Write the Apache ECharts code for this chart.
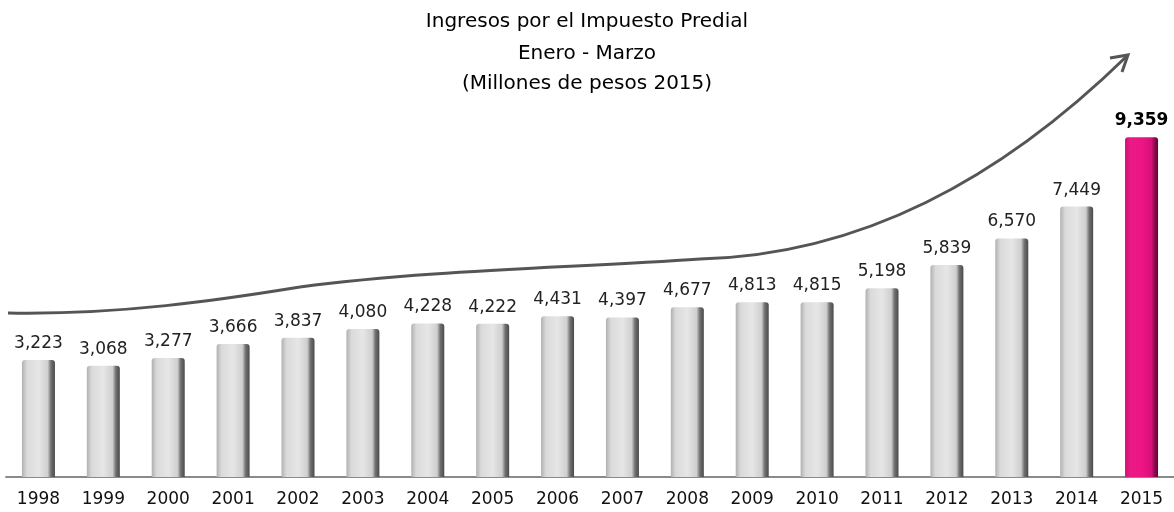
<!DOCTYPE html>
<html>
<head>
<meta charset="utf-8">
<script src="https://cdn.jsdelivr.net/npm/echarts@6/dist/echarts.min.js"></script>
<style>
  html, body { margin: 0; padding: 0; background: #fff; }
  #chart { width: 1174px; height: 512px; }
</style>
</head>
<body>
<div id="chart"></div>
<script>
const years = ['1998', '1999', '2000', '2001', '2002', '2003', '2004', '2005', '2006',
  '2007', '2008', '2009', '2010', '2011', '2012', '2013', '2014', '2015'];
const ingresos = [3223, 3068, 3277, 3666, 3837, 4080, 4228, 4222, 4431,
  4397, 4677, 4813, 4815, 5198, 5839, 6570, 7449, 9359];
const titleLines = ['Ingresos por el Impuesto Predial', 'Enero - Marzo', '(Millones de pesos 2015)'];

const chart = echarts.init(document.getElementById('chart'));

const grayBar = new echarts.graphic.LinearGradient(0, 0, 1, 0, [
  { offset: 0, color: '#b0b0b0' },
  { offset: 0.15, color: '#dadada' },
  { offset: 0.5, color: '#e6e6e6' },
  { offset: 0.78, color: '#cfcfcf' },
  { offset: 0.88, color: '#707070' },
  { offset: 1, color: '#4a4a4a' }
]);
const pinkBar = new echarts.graphic.LinearGradient(0, 0, 1, 0, [
  { offset: 0, color: '#d0106f' },
  { offset: 0.15, color: '#ea1a85' },
  { offset: 0.5, color: '#ee1586' },
  { offset: 0.8, color: '#d81079' },
  { offset: 0.9, color: '#8c0a4c' },
  { offset: 1, color: '#5e0632' }
]);

const last = ingresos.length - 1;
const font = 'DejaVu Sans';
const curveStyle = { fill: null, stroke: '#555', lineWidth: 3 };
const titleStyle = { fontFamily: font, fontSize: 20, fontWeight: 'normal', color: '#000' };

const option = {
  animation: false,
  textStyle: { fontFamily: font },
  title: [
    { text: titleLines[0], left: 'center', top: 7, textStyle: titleStyle },
    { text: titleLines[1], left: 'center', top: 39, textStyle: titleStyle },
    { text: titleLines[2], left: 'center', top: 69, textStyle: titleStyle }
  ],
  grid: { left: 6, right: -4, top: 114, bottom: 35, containLabel: false },
  xAxis: {
    type: 'category',
    data: years,
    axisTick: { show: false },
    axisLine: { lineStyle: { color: '#8a8a8a', width: 2 } },
    axisLabel: { fontSize: 17, color: '#111', margin: 14, fontFamily: font }
  },
  yAxis: {
    type: 'value',
    min: 0,
    max: 10000,
    show: false,
    splitLine: { show: false }
  },
  series: [{
    type: 'bar',
    barWidth: 33,
    data: ingresos.map((v, i) => ({
      value: v,
      itemStyle: { color: i === last ? pinkBar : grayBar, borderRadius: [3, 3, 0, 0] },
      label: i === last ? { fontWeight: 'bold', color: '#000' } : {}
    })),
    label: {
      show: true,
      position: 'top',
      distance: 8,
      fontSize: 17,
      fontFamily: font,
      color: '#222',
      formatter: p => p.value.toLocaleString('en-US')
    }
  }],
  graphic: [
    {
      type: 'bezierCurve',
      shape: { x1: 8, y1: 313, cpx1: 120, cpy1: 315, cpx2: 220, cpy2: 300, x2: 300, y2: 287 },
      style: curveStyle
    },
    {
      type: 'bezierCurve',
      shape: { x1: 300, y1: 287, cpx1: 430, cpy1: 270, cpx2: 570, cpy2: 268, x2: 700, y2: 259 },
      style: curveStyle
    },
    {
      type: 'bezierCurve',
      shape: { x1: 700, y1: 259, cpx1: 860, cpy1: 255, cpx2: 1000, cpy2: 180, x2: 1127, y2: 56 },
      style: curveStyle
    },
    {
      type: 'polyline',
      shape: { points: [[1110, 58], [1128, 55], [1122, 72]] },
      style: curveStyle
    }
  ]
};

chart.setOption(option);
</script>
</body>
</html>
